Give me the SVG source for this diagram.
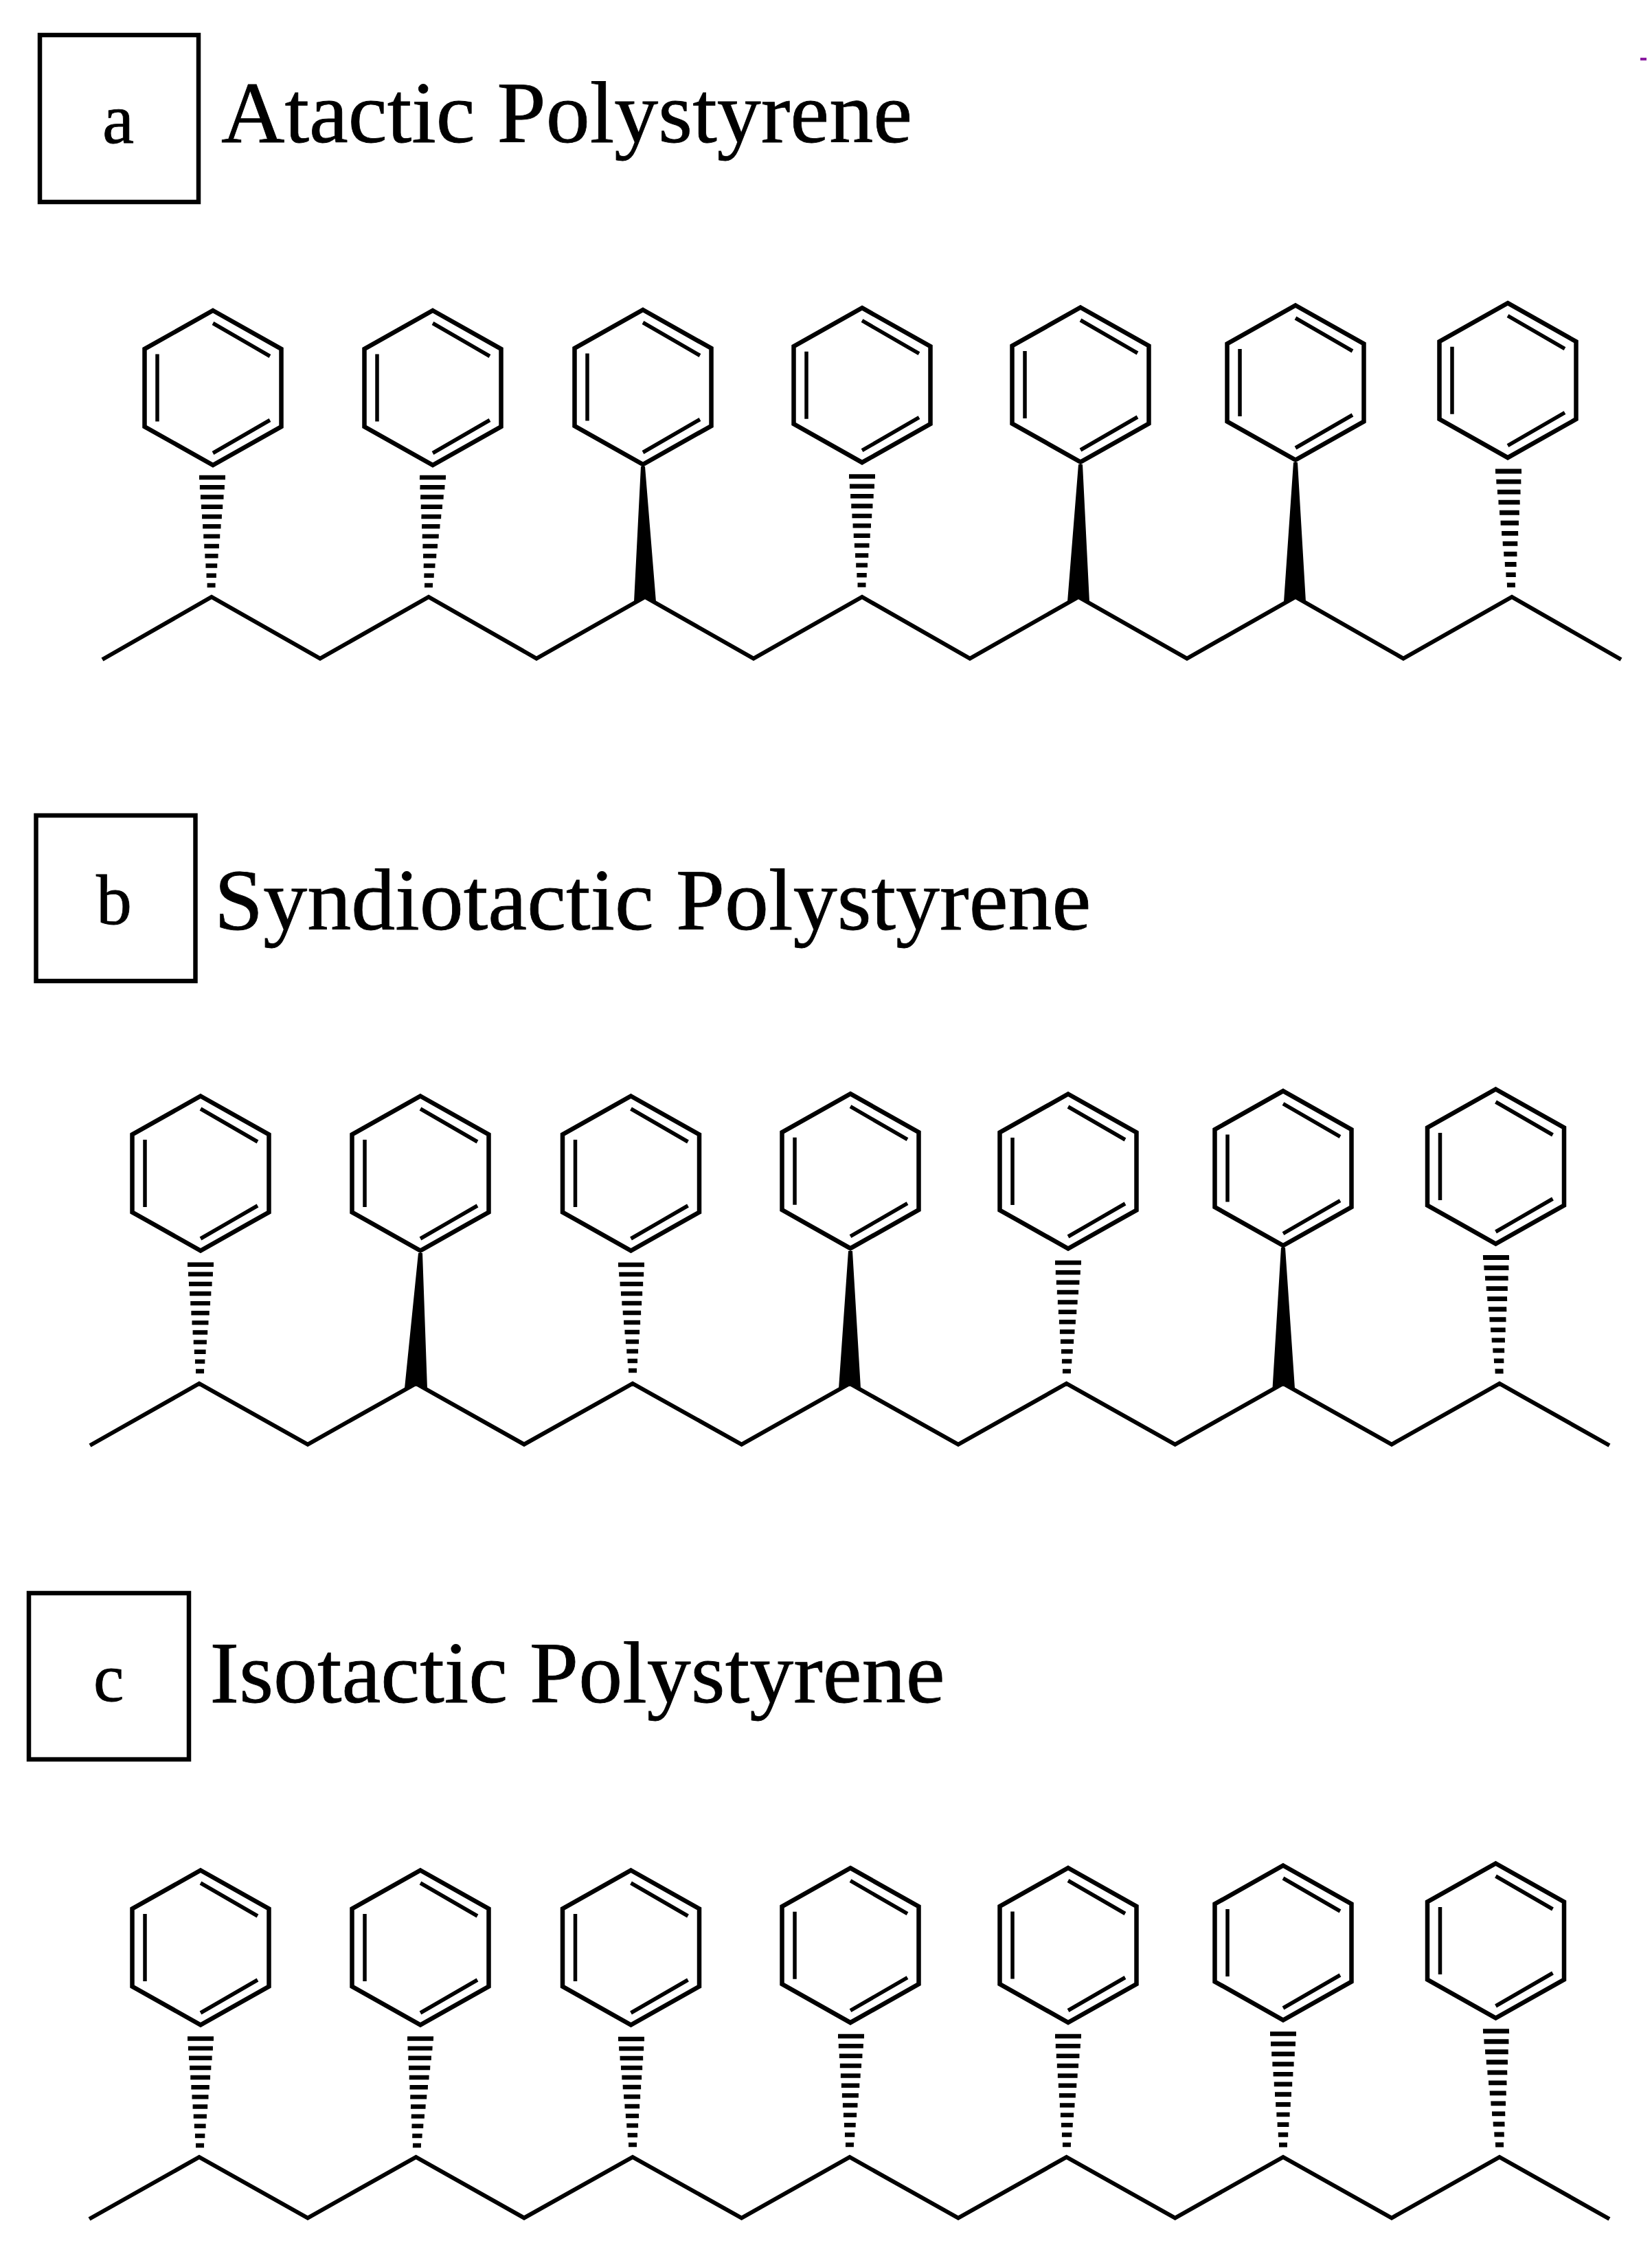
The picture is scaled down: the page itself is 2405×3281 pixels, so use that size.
<svg xmlns="http://www.w3.org/2000/svg" width="2405" height="3281" viewBox="0 0 2405 3281">
<style>
.box{fill:none;stroke:#000;stroke-width:6.5}
.ring{fill:none;stroke:#000;stroke-width:6.5;stroke-linejoin:miter}
.dbl{stroke:#000;stroke-width:5.5;fill:none}
.chain{fill:none;stroke:#000;stroke-width:6;stroke-linejoin:miter}
.t{font-family:"Liberation Serif","Times New Roman",serif;fill:#000;stroke:#000;stroke-width:.8}
.lbl{font-size:104px}
.ttl{font-size:128px}
.hb{stroke:#000;stroke-width:6.5;fill:none}
</style>
<defs>
<g id="ph">
<polygon class="ring" points="0,-112.5 99.5,-56.5 99.5,56.5 0,112.5 -99.5,56.5 -99.5,-56.5"/>
<path class="dbl" d="M-81,-49V49M0,-94L83,-46M83,47L0,95"/>
</g>
<g id="hash">
<path class="hb" d="M-19,0H19M-18,14.3H18M-16.8,28.6H16.8M-15.6,42.9H15.6M-14.4,57.2H14.4M-13.2,71.5H13.2M-12,85.8H12M-10.8,100.1H10.8M-9.6,114.4H9.6M-8.4,128.7H8.4M-7.2,143H7.2M-6,157.3H6"/>
</g>
</defs>
<rect width="2405" height="3281" fill="#fff"/>
<rect id="stray-mark" x="2388" y="84" width="9" height="4" fill="#8a1aa0"/>

<g id="panel-a-label"><rect class="box" x="58" y="51" width="231" height="243"/><text class="t lbl" x="149" y="208">a</text></g>
<text id="panel-a-title" class="t ttl" x="322" y="207">Atactic Polystyrene</text>
<g id="panel-b-label"><rect class="box" x="52.5" y="1187" width="232" height="241"/><text class="t lbl" x="140" y="1345">b</text></g>
<text id="panel-b-title" class="t ttl" x="312" y="1353">Syndiotactic Polystyrene</text>
<g id="panel-c-label"><rect class="box" x="42" y="2319" width="233" height="242"/><text class="t lbl" x="136" y="2476" style="font-size:100px">c</text></g>
<text id="panel-c-title" class="t ttl" x="305.5" y="2478">Isotactic Polystyrene</text>

<g id="connectors">
<polyline class="chain" points="149,960 308,869 466,958.5 624,869 781,958.5 939,869 1097,958.5 1255,869 1412,958.5 1570,869 1728,958.5 1886,869 2043,958.5 2201,869 2360,960"/>
<polyline class="chain" points="131,2104 290,2014 448,2102.5 605.6,2014 763,2102.5 921,2014 1079.6,2102.5 1237,2014 1395,2102.5 1552.6,2014 1710.7,2102.5 1868,2014 2026,2102.5 2183,2014 2343,2104"/>
<polyline class="chain" points="130,3230 290,3140 448,3228.5 605.6,3140 763,3228.5 921,3140 1079.6,3228.5 1237,3140 1395,3228.5 1552.6,3140 1710.7,3228.5 1868,3140 2026,3228.5 2183,3140 2343,3230"/>
<use href="#hash" transform="matrix(1 0 -.009 .998 309 695)"/>
<use href="#hash" transform="matrix(1 0 -.038 .998 630 695)"/>
<polygon points="933,679 939,679 955,876 939,869 923,876"/>
<use href="#hash" transform="matrix(1 0 -.003 1.005 1255 693.5)"/>
<polygon points="1570,676 1576,676 1586,876 1570,869 1554,876"/>
<polygon points="1883,673 1889,673 1901,876 1886,869 1869,876"/>
<use href="#hash" transform="matrix(1 0 .025 1.053 2196 686)"/>
<use href="#hash" transform="matrix(1 0 -.006 .987 292 1840.7)"/>
<polygon points="609,1824 615,1824 622,2021 605.6,2014 589,2021"/>
<use href="#hash" transform="matrix(1 0 .013 .979 919 1841)"/>
<polygon points="1235,1821 1241,1821 1253,2021 1237,2014 1221,2021"/>
<use href="#hash" transform="matrix(1 0 -.013 1.004 1555 1838)"/>
<polygon points="1865,1816 1871,1816 1885,2021 1868,2014 1852.5,2021"/>
<use href="#hash" transform="matrix(1 0 .029 1.052 2178 1830.5)"/>
<use href="#hash" transform="matrix(1 0 -.006 .989 292 2967.5)"/>
<use href="#hash" transform="matrix(1 0 -.032 .989 612 2967.5)"/>
<use href="#hash" transform="matrix(1 0 .013 .979 919 2968)"/>
<use href="#hash" transform="matrix(1 0 -.013 1.004 1239 2964)"/>
<use href="#hash" transform="matrix(1 0 -.013 1.004 1555 2964)"/>
<use href="#hash" transform="matrix(1 0 0 1.027 1868 2960.5)"/>
<use href="#hash" transform="matrix(1 0 .032 1.051 2178 2956.7)"/>
</g>

<g id="a1"><use href="#ph" x="310" y="564.5"/></g>
<g id="a2"><use href="#ph" x="630" y="564.5"/></g>
<g id="a3"><use href="#ph" x="936" y="563.5"/></g>
<g id="a4"><use href="#ph" x="1255" y="560.7"/></g>
<g id="a5"><use href="#ph" x="1573" y="560"/></g>
<g id="a6"><use href="#ph" x="1886" y="557"/></g>
<g id="a7"><use href="#ph" x="2195" y="553.7"/></g>
<g id="b1"><use href="#ph" x="292" y="1708"/></g>
<g id="b2"><use href="#ph" x="612" y="1708"/></g>
<g id="b3"><use href="#ph" x="918.5" y="1708"/></g>
<g id="b4"><use href="#ph" x="1238" y="1704.7"/></g>
<g id="b5"><use href="#ph" x="1555" y="1705"/></g>
<g id="b6"><use href="#ph" x="1868" y="1700.6"/></g>
<g id="b7"><use href="#ph" x="2177.5" y="1698"/></g>
<g id="c1"><use href="#ph" x="292" y="2835"/></g>
<g id="c2"><use href="#ph" x="612" y="2835"/></g>
<g id="c3"><use href="#ph" x="918.5" y="2835"/></g>
<g id="c4"><use href="#ph" x="1238" y="2831.7"/></g>
<g id="c5"><use href="#ph" x="1555" y="2831.5"/></g>
<g id="c6"><use href="#ph" x="1868" y="2828"/></g>
<g id="c7"><use href="#ph" x="2177.5" y="2825"/></g>
</svg>
